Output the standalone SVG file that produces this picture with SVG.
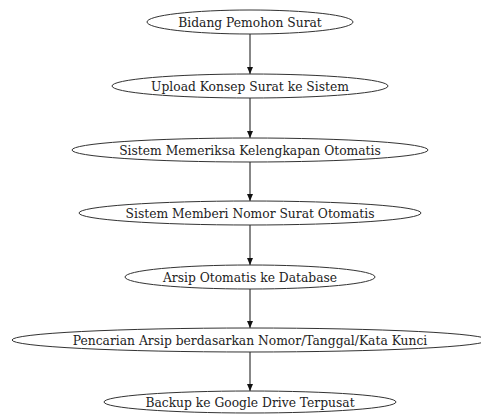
<svg xmlns="http://www.w3.org/2000/svg" width="481" height="414" viewBox="0 0 481 414">
<defs>
<marker id="ah" markerWidth="8" markerHeight="8" refX="7" refY="4" orient="auto" markerUnits="userSpaceOnUse">
<path d="M0,1 L7,4 L0,7 Z" fill="#111"/>
</marker>
<style>
.n ellipse{fill:#fff;stroke:#333;stroke-width:1}
.n text{font-family:"DejaVu Serif","Liberation Serif",serif;font-size:12.3px;fill:#222;text-anchor:middle}
.e line{stroke:#111;stroke-width:1;marker-end:url(#ah)}
</style>
</defs>
<rect width="481" height="414" fill="#fff"/>
<g id="edges" class="e">
<line x1="250" y1="34" x2="250" y2="74"/>
<line x1="250" y1="98" x2="250" y2="138"/>
<line x1="250" y1="162" x2="250" y2="201"/>
<line x1="250" y1="225" x2="250" y2="265"/>
<line x1="250" y1="289" x2="250" y2="328"/>
<line x1="250" y1="352" x2="250" y2="391"/>
</g>
<g id="n1" class="n"><ellipse cx="250" cy="22" rx="103" ry="12"/><text x="250" y="26.5">Bidang Pemohon Surat</text></g>
<g id="n2" class="n"><ellipse cx="250" cy="86" rx="138" ry="12"/><text x="250" y="90.5">Upload Konsep Surat ke Sistem</text></g>
<g id="n3" class="n"><ellipse cx="250" cy="150" rx="178" ry="12"/><text x="250" y="154.5">Sistem Memeriksa Kelengkapan Otomatis</text></g>
<g id="n4" class="n"><ellipse cx="250" cy="213" rx="171" ry="12"/><text x="250" y="217.5">Sistem Memberi Nomor Surat Otomatis</text></g>
<g id="n5" class="n"><ellipse cx="250" cy="277" rx="125" ry="12"/><text x="250" y="281.5">Arsip Otomatis ke Database</text></g>
<g id="n6" class="n"><ellipse cx="250" cy="340" rx="238" ry="12"/><text x="250" y="344.5">Pencarian Arsip berdasarkan Nomor/Tanggal/Kata Kunci</text></g>
<g id="n7" class="n"><ellipse cx="250" cy="402" rx="146" ry="11"/><text x="250" y="406.5">Backup ke Google Drive Terpusat</text></g>
</svg>
